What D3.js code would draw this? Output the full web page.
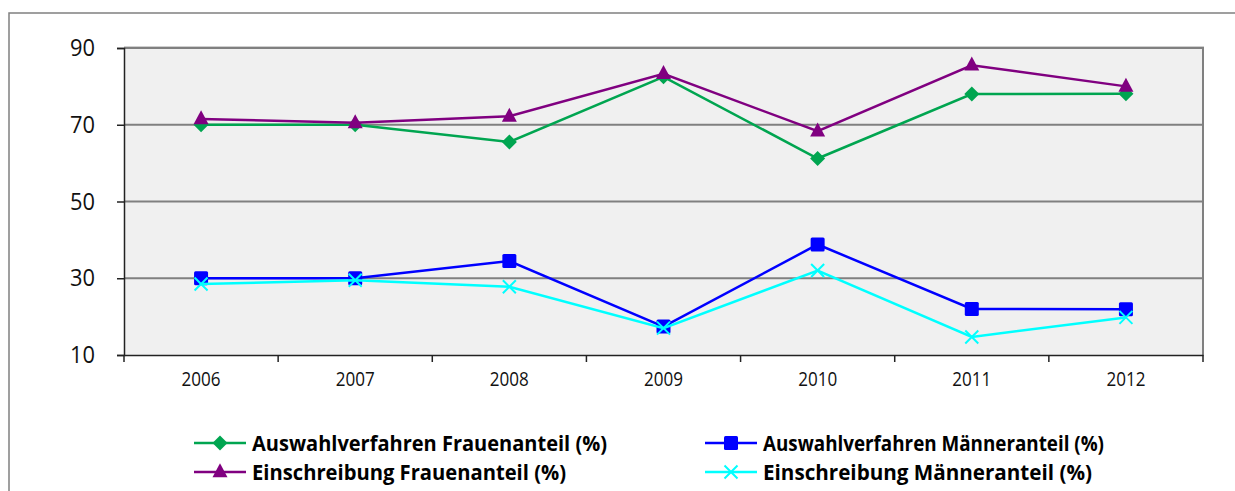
<!DOCTYPE html>
<html><head><meta charset="utf-8">
<script src="https://cdn.jsdelivr.net/npm/d3@7"></script>
<style>body{margin:0;background:#fff}svg{display:block}</style>
</head><body><svg id="c" width="1235" height="491"></svg>
<script>
const years = ["2006","2007","2008","2009","2010","2011","2012"];
const yTicks = [10,30,50,70,90];
const auswahlFrauen = [70,70,65.5,82.5,61.2,78,78.1];
const einschrFrauen = [71.5,70.5,72.2,83.3,68.3,85.5,80];
const auswahlMaenner = [30,30,34.5,17.4,38.8,22,21.9];
const einschrMaenner = [28.5,29.5,27.8,17,32,14.7,19.8];
const seriesNames = ["Auswahlverfahren Frauenanteil (%)","Einschreibung Frauenanteil (%)","Auswahlverfahren Männeranteil (%)","Einschreibung Männeranteil (%)"];

const series = [
  {name:seriesNames[0], values:auswahlFrauen, color:"#00A550", marker:"diamond"},
  {name:seriesNames[1], values:einschrFrauen, color:"#800080", marker:"triangle"},
  {name:seriesNames[2], values:auswahlMaenner, color:"#0000FF", marker:"square"},
  {name:seriesNames[3], values:einschrMaenner, color:"#00FFFF", marker:"x"}
];

const svg = d3.select("#c");
const L=124,R=1203,T=48,B=355;
const x = d3.scaleBand().domain(years).range([L,R]);
const y = d3.scaleLinear().domain([10,90]).range([B,T]);

svg.append("rect").attr("x",9).attr("y",13).attr("width",1240).attr("height",500)
  .attr("fill","none").attr("stroke","#808080").attr("stroke-width",1.5);

svg.append("rect").attr("x",L).attr("y",T).attr("width",R-L).attr("height",B-T).attr("fill","#F0F0F0");
svg.append("line").attr("x1",L).attr("x2",R+1).attr("y1",T-1.5).attr("y2",T-1.5).attr("stroke","#cfcfcf").attr("stroke-width",1);
svg.append("g").selectAll("line").data(yTicks.filter(d=>d>10)).join("line")
  .attr("x1",L).attr("x2",R).attr("y1",d=>y(d)).attr("y2",d=>y(d))
  .attr("stroke","#808080").attr("stroke-width",2);
svg.append("line").attr("x1",R).attr("x2",R).attr("y1",T-1).attr("y2",B).attr("stroke","#808080").attr("stroke-width",2);

const yAxis = d3.axisLeft(y).tickValues(yTicks).tickSize(7).tickPadding(22);
const gy = svg.append("g").attr("transform",`translate(${L},0)`).call(yAxis);
gy.select(".domain").attr("stroke","#222").attr("stroke-width",1.5);
gy.selectAll(".tick line").attr("stroke","#222").attr("stroke-width",1.5);
gy.selectAll("text").attr("font-family","Open Sans").attr("font-size",24).attr("fill","#111")
  .attr("textLength",25).attr("lengthAdjust","spacingAndGlyphs");

const xAxis = d3.axisBottom(x).tickSize(0).tickPadding(17);
const gx = svg.append("g").attr("transform",`translate(0,${B})`).call(xAxis);
gx.select(".domain").attr("stroke","#222").attr("stroke-width",1.5);
gx.selectAll("text").attr("font-family","Open Sans").attr("font-size",20).attr("fill","#111")
  .attr("textLength",39).attr("lengthAdjust","spacingAndGlyphs");
const bounds = years.map(d=>x(d)).concat([x(years[years.length-1])+x.bandwidth()]);
svg.append("g").selectAll("line").data(bounds).join("line")
  .attr("x1",d=>d).attr("x2",d=>d).attr("y1",B).attr("y2",B+7)
  .attr("stroke","#222").attr("stroke-width",1.5);

const cx = d=>x(d)+x.bandwidth()/2;

function drawMarker(g,type,color,px,py){
  if(type==="diamond"){
    const a=7.5;
    g.append("path").attr("d",`M${px},${py-a}L${px+a},${py}L${px},${py+a}L${px-a},${py}Z`).attr("fill",color);
  } else if(type==="triangle"){
    const h=14,w=15;
    g.append("path").attr("d",`M${px},${py-h*0.62}L${px+w/2},${py+h*0.38}L${px-w/2},${py+h*0.38}Z`).attr("fill",color);
  } else if(type==="square"){
    const a=14;
    g.append("rect").attr("x",px-a/2).attr("y",py-a/2).attr("width",a).attr("height",a).attr("rx",1.5).attr("fill",color);
  } else if(type==="x"){
    const a=6.5;
    g.append("path").attr("d",`M${px-a},${py-a}L${px+a},${py+a}M${px-a},${py+a}L${px+a},${py-a}`)
      .attr("stroke",color).attr("stroke-width",2).attr("fill","none");
  }
}

const line = d3.line().x((d,i)=>cx(years[i])).y(d=>y(d));
[0,1,2,3].forEach(k=>{
  const s=series[k];
  const g=svg.append("g");
  g.append("path").attr("d",line(s.values)).attr("fill","none").attr("stroke",s.color).attr("stroke-width",2.5);
  s.values.forEach((v,i)=>drawMarker(g,s.marker,s.color,cx(years[i]),y(v)));
});

const legendPos=[
  {lx:194, ty:443},{lx:194, ty:472},{lx:705, ty:443},{lx:705, ty:472}
];
const targetW=[355,314,341,329];
series.forEach((s,k)=>{
  const p=legendPos[k];
  const g=svg.append("g");
  g.append("line").attr("x1",p.lx).attr("x2",p.lx+52).attr("y1",p.ty).attr("y2",p.ty).attr("stroke",s.color).attr("stroke-width",2.5);
  drawMarker(g,s.marker,s.color,p.lx+26,p.ty);
  g.append("text").attr("x",p.lx+58).attr("y",p.ty).attr("dy","0.36em")
    .attr("font-family","Open Sans").attr("font-weight","bold").attr("font-size",21).attr("fill","#000")
    .attr("textLength",targetW[k]).attr("lengthAdjust","spacingAndGlyphs").text(s.name);
});
</script></body></html>
